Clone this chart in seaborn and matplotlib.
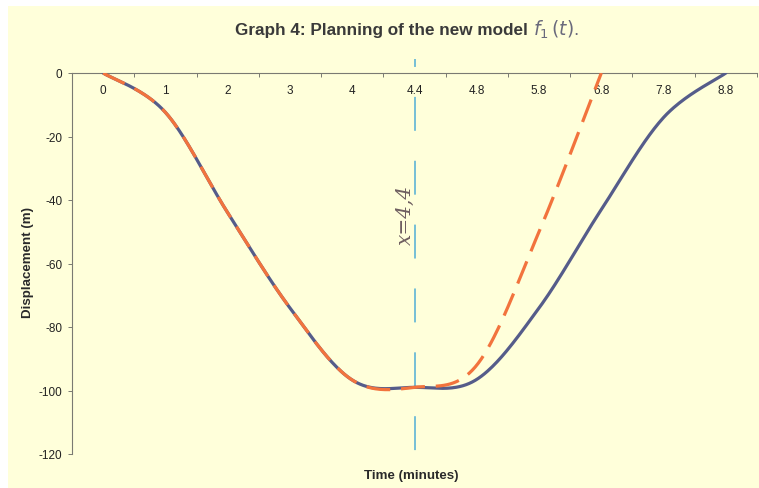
import numpy as np
import pandas as pd
import matplotlib
matplotlib.use("Agg")
import matplotlib.pyplot as plt
import seaborn as sns
from matplotlib.patches import Rectangle

# ---------------- data ----------------
time_labels = ["0", "1", "2", "3", "4", "4.4", "4.8", "5.8", "6.8", "7.8", "8.8"]
original_disp = [0, -12.4, -44, -74, -96.7, -99, -96.5, -74, -43, -14, 0]
new_model_disp = [0, -12.4, -44, -74, -96.7, -99, -92, -50, 0]
y_ticks = [0, -20, -40, -60, -80, -100, -120]
marker_label = "4.4"
marker_note = "x=4,4"

title_main = "Graph 4: Planning of the new model"
title_model = r"$f_{1}\,(t)$."
x_label = "Time (minutes)"
y_label = "Displacement (m)"

# ------------- helpers ---------------
def excel_smooth(ys, n=40):
    """Bezier smoothing through the points (like a spreadsheet 'smoothed line')."""
    xs = np.arange(len(ys), dtype=float)
    pts = np.column_stack([xs, np.asarray(ys, dtype=float)])
    P = np.vstack([pts[0], pts, pts[-1]])
    ox, oy = [], []
    for i in range(1, len(P) - 2):
        p0, p1, p2, p3 = P[i - 1], P[i], P[i + 1], P[i + 2]
        c1 = p1 + (p2 - p0) / 6.0
        c2 = p2 - (p3 - p1) / 6.0
        t = np.linspace(0, 1, n, endpoint=(i == len(P) - 3))[:, None]
        b = ((1 - t) ** 3) * p1 + 3 * ((1 - t) ** 2) * t * c1 + 3 * (1 - t) * t ** 2 * c2 + t ** 3 * p2
        ox.extend(b[:, 0]); oy.extend(b[:, 1])
    return np.array(ox), np.array(oy)

# ------------- figure ---------------
sns.set_theme(style="white")
plt.rcParams["font.family"] = ["Liberation Sans", "DejaVu Sans"]

W, H = 759, 489
fig = plt.figure(figsize=(W / 100, H / 100), dpi=100, facecolor="white")
bg = "#FFFFDA"
fig.patches.append(Rectangle((8 / W, 0), 1 - 8 / W, 1 - 7 / H, transform=fig.transFigure,
                             facecolor=bg, edgecolor="none", zorder=-10))

ax = fig.add_axes([72 / W, 1 - 455 / H, (757 - 72) / W, (455 - 74) / H])
ax.set_facecolor("none")

blue = "#555C8A"
orange = "#F2733D"

bx, by = excel_smooth(original_disp)
ox_, oy_ = excel_smooth(new_model_disp)
sns.lineplot(x=bx, y=by, sort=False, estimator=None, color=blue, linewidth=2.3, ax=ax, zorder=3)
sns.lineplot(x=ox_, y=oy_, sort=False, estimator=None, color=orange, linewidth=2.3,
             linestyle=(0, (7.5, 3.4)), ax=ax, zorder=4)

# reference line at x = 4.4
mi = time_labels.index(marker_label)
ax.axvline(mi, ymin=(455 - 60) / 381, ymax=0.0, color="#4FAED6", linewidth=1.1,
           linestyle=(17.0, (22.2, 19.6)), clip_on=False, zorder=2)
ax.text((405 - 72) / 685, (455 - 215) / 381, marker_note, transform=ax.transAxes,
        rotation=90, ha="center", va="center", fontsize=14.5, color="#6E5E60",
        family=["DejaVu Serif"], style="italic")

# axes styling
ax.set_xlim(-0.5, len(time_labels) - 0.5)
ax.set_ylim(-120, 0)
for s in ["top", "right"]:
    ax.spines[s].set_visible(False)
ax.spines["bottom"].set_position(("data", 0))
for s in ["bottom", "left"]:
    ax.spines[s].set_color("#7A7A72")
    ax.spines[s].set_linewidth(0.8)

ax.set_xticks(range(len(time_labels)))
ax.set_xticklabels(time_labels)
ax.set_xticks(np.arange(-0.5, len(time_labels)), minor=True)
ax.tick_params(axis="x", which="major", length=0, pad=8, labelsize=8.5, labelcolor="#222222")
ax.tick_params(axis="x", which="minor", length=3, width=0.7, color="#7A7A72", direction="out", bottom=True)

ax.set_yticks(y_ticks)
ax.set_yticklabels([str(v) for v in y_ticks])
ax.tick_params(axis="y", which="major", length=3, width=0.7, color="#7A7A72", direction="out",
               left=True, pad=4, labelsize=8.5, labelcolor="#222222")
ax.grid(False)

ax.set_xlabel(x_label, fontsize=9.6, fontweight="bold", color="#2A2A2A")
ax.xaxis.set_label_coords((411 - 72) / 685, (455 - 470) / 381)
ax.set_ylabel(y_label, fontsize=9.6, fontweight="bold", color="#2A2A2A")
ax.yaxis.set_label_coords((34 - 72) / 685, (455 - 263) / 381)

fig.text(528 / W, 1 - 30 / H, title_main, ha="right", va="center", fontsize=12.3,
         fontweight="bold", color="#3A3A3A")
fig.text(533 / W, 1 - 30 / H, title_model, ha="left", va="center", fontsize=13.5,
         color="#6A6A7C")

fig.savefig("out.png", dpi=100, facecolor=fig.get_facecolor())
